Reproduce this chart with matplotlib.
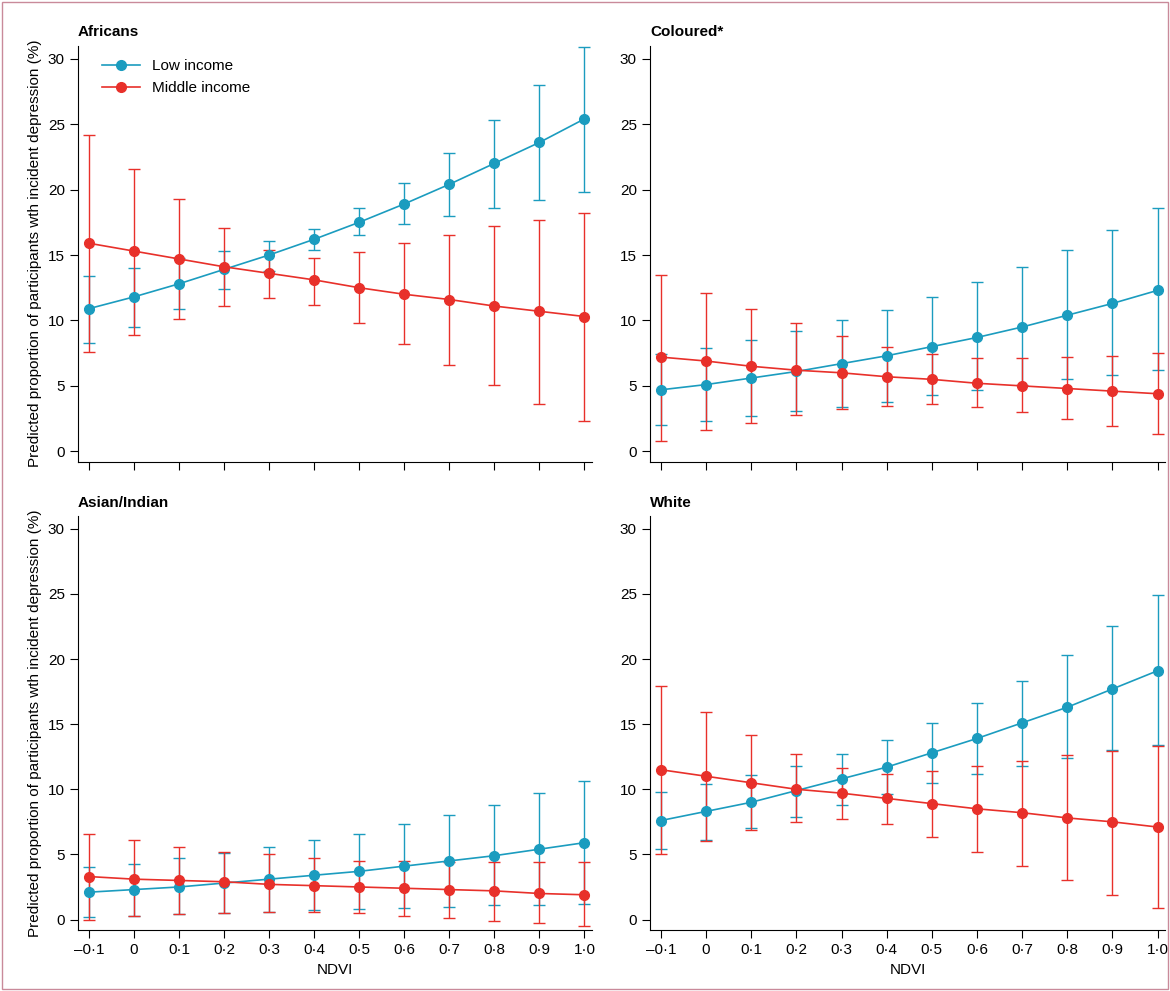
import numpy as np
import matplotlib
matplotlib.use("Agg")
from matplotlib import pyplot as plt
from matplotlib.ticker import FuncFormatter

ndvi = [-0.1, 0, 0.1, 0.2, 0.3, 0.4, 0.5, 0.6, 0.7, 0.8, 0.9, 1.0]

# Africans
afr_low = [10.9, 11.8, 12.8, 13.9, 15.0, 16.2, 17.5, 18.9, 20.4, 22.0, 23.6, 25.4]
afr_low_lo = [8.3, 9.5, 10.9, 12.4, 13.8, 15.4, 16.5, 17.4, 18.0, 18.6, 19.2, 19.8]
afr_low_hi = [13.4, 14.0, 14.8, 15.3, 16.1, 17.0, 18.6, 20.5, 22.8, 25.3, 28.0, 30.9]
afr_mid = [15.9, 15.3, 14.7, 14.1, 13.6, 13.1, 12.5, 12.0, 11.6, 11.1, 10.7, 10.3]
afr_mid_lo = [7.6, 8.9, 10.1, 11.1, 11.7, 11.2, 9.8, 8.2, 6.6, 5.1, 3.6, 2.3]
afr_mid_hi = [24.2, 21.6, 19.3, 17.1, 15.4, 14.8, 15.2, 15.9, 16.5, 17.2, 17.7, 18.2]

# Coloured
col_low = [4.7, 5.1, 5.6, 6.1, 6.7, 7.3, 8.0, 8.7, 9.5, 10.4, 11.3, 12.3]
col_low_lo = [2.0, 2.3, 2.7, 3.1, 3.4, 3.8, 4.3, 4.7, 5.1, 5.5, 5.8, 6.2]
col_low_hi = [7.4, 7.9, 8.5, 9.2, 10.0, 10.8, 11.8, 12.9, 14.1, 15.4, 16.9, 18.6]
col_mid = [7.2, 6.9, 6.5, 6.2, 6.0, 5.7, 5.5, 5.2, 5.0, 4.8, 4.6, 4.4]
col_mid_lo = [0.8, 1.6, 2.2, 2.8, 3.2, 3.5, 3.6, 3.4, 3.0, 2.5, 1.9, 1.3]
col_mid_hi = [13.5, 12.1, 10.9, 9.8, 8.8, 8.0, 7.4, 7.1, 7.1, 7.2, 7.3, 7.5]

# Asian/Indian
asi_low = [2.1, 2.3, 2.5, 2.8, 3.1, 3.4, 3.7, 4.1, 4.5, 4.9, 5.4, 5.9]
asi_low_lo = [0.2, 0.3, 0.4, 0.5, 0.6, 0.7, 0.8, 0.9, 1.0, 1.1, 1.1, 1.2]
asi_low_hi = [4.0, 4.3, 4.7, 5.1, 5.6, 6.1, 6.6, 7.3, 8.0, 8.8, 9.7, 10.6]
asi_mid = [3.3, 3.1, 3.0, 2.9, 2.7, 2.6, 2.5, 2.4, 2.3, 2.2, 2.0, 1.9]
asi_mid_lo = [0.0, 0.3, 0.4, 0.5, 0.6, 0.6, 0.5, 0.3, 0.1, -0.1, -0.3, -0.5]
asi_mid_hi = [6.6, 6.1, 5.6, 5.2, 5.0, 4.7, 4.5, 4.5, 4.4, 4.4, 4.4, 4.4]

# White
whi_low = [7.6, 8.3, 9.0, 9.9, 10.8, 11.7, 12.8, 13.9, 15.1, 16.3, 17.7, 19.1]
whi_low_lo = [5.4, 6.1, 7.0, 7.9, 8.8, 9.6, 10.5, 11.2, 11.8, 12.4, 13.0, 13.4]
whi_low_hi = [9.8, 10.4, 11.1, 11.8, 12.7, 13.8, 15.1, 16.6, 18.3, 20.3, 22.5, 24.9]
whi_mid = [11.5, 11.0, 10.5, 10.0, 9.7, 9.3, 8.9, 8.5, 8.2, 7.8, 7.5, 7.1]
whi_mid_lo = [5.0, 6.0, 6.9, 7.5, 7.7, 7.3, 6.3, 5.2, 4.1, 3.0, 1.9, 0.9]
whi_mid_hi = [17.9, 15.9, 14.2, 12.7, 11.6, 11.2, 11.4, 11.8, 12.2, 12.6, 12.9, 13.3]

panels = [
    ("Africans", afr_low, afr_low_lo, afr_low_hi, afr_mid, afr_mid_lo, afr_mid_hi),
    ("Coloured*", col_low, col_low_lo, col_low_hi, col_mid, col_mid_lo, col_mid_hi),
    ("Asian/Indian", asi_low, asi_low_lo, asi_low_hi, asi_mid, asi_mid_lo, asi_mid_hi),
    ("White", whi_low, whi_low_lo, whi_low_hi, whi_mid, whi_mid_lo, whi_mid_hi),
]

TEAL = "#1b9cbf"
RED = "#e8302a"

plt.rcParams['font.family'] = ['Liberation Sans', 'DejaVu Sans']
fig = plt.figure(figsize=(11.7, 9.91), dpi=100)
fig.patches.append(plt.Rectangle((0.002, 0.002), 0.996, 0.996, transform=fig.transFigure,
                                 fill=False, edgecolor="#c98a9a", lw=1))

positions = [
    [0.0667, 0.534, 0.439, 0.42],
    [0.5556, 0.534, 0.440, 0.42],
    [0.0667, 0.0616, 0.439, 0.418],
    [0.5556, 0.0616, 0.440, 0.418],
]

fmt = FuncFormatter(lambda v, p: ("–" if v < -1e-9 else "") + ("%.1f" % abs(v) if v != 0 else "0").replace(".", "·"))

for i, (name, lo, lo_l, lo_h, mi, mi_l, mi_h) in enumerate(panels):
    ax = fig.add_axes(positions[i])
    lo, lo_l, lo_h = np.array(lo), np.array(lo_l), np.array(lo_h)
    mi, mi_l, mi_h = np.array(mi), np.array(mi_l), np.array(mi_h)
    ax.errorbar(ndvi, lo, yerr=[lo - lo_l, lo_h - lo], fmt='none', ecolor=TEAL,
                elinewidth=1, capsize=4, capthick=1)
    ax.errorbar(ndvi, mi, yerr=[mi - mi_l, mi_h - mi], fmt='none', ecolor=RED,
                elinewidth=1, capsize=4, capthick=1)
    ax.plot(ndvi, lo, '-o', color=TEAL, ms=7, lw=1.2, label="Low income")
    ax.plot(ndvi, mi, '-o', color=RED, ms=7, lw=1.2, label="Middle income")
    ax.set_xlim(-0.124, 1.016)
    ax.set_ylim(-0.8, 31)
    ax.set_yticks(range(0, 31, 5))
    ax.set_xticks(ndvi)
    ax.xaxis.set_major_formatter(fmt)
    for s in ["top", "right"]:
        ax.spines[s].set_visible(False)
    ax.tick_params(labelsize=11, direction='out', length=6)
    ax.text(0.0, 1.015, name, transform=ax.transAxes, fontsize=11, fontweight='bold',
            ha='left', va='bottom')
    if i % 2 == 0:
        ax.set_ylabel("Predicted proportion of participants wth incident depression (%)", fontsize=11)
    if i >= 2:
        ax.set_xlabel("NDVI", fontsize=11)
    else:
        ax.tick_params(labelbottom=False)
    if i == 0:
        ax.legend(loc='upper left', bbox_to_anchor=(0.02, 1.0), frameon=False, fontsize=11,
                  handlelength=2.5)

fig.savefig("out.png", dpi=100)
